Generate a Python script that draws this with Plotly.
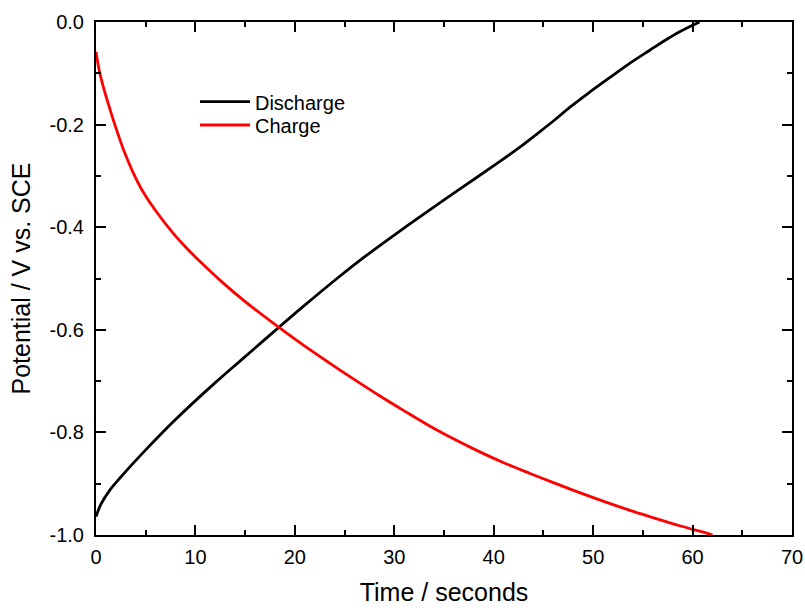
import plotly.graph_objects as go

discharge_t = [0, 0.5, 1.41, 2.5, 3.75, 5, 6.44, 8, 9.79, 12, 14.48, 16.5, 18.4, 21, 24.3, 27, 30.24, 33.5,
               36.94, 40.3, 42.5, 44.3, 46, 47.67, 49.5, 51.7, 53.5, 55.7, 57.3, 58.7, 60.7]
discharge_v = [-0.964, -0.940, -0.912, -0.887, -0.860, -0.834, -0.805, -0.775, -0.742, -0.703, -0.661, -0.627,
               -0.595, -0.552, -0.499, -0.458, -0.412, -0.367, -0.321, -0.276, -0.246, -0.219, -0.193, -0.166,
               -0.139, -0.108, -0.083, -0.055, -0.035, -0.019, 0.0]

charge_t = [0, 0.3, 0.73, 1.5, 2.1, 2.75, 3.7, 4.76, 6, 7.77, 9, 10.46, 12.8, 15, 18.4, 21, 23.5, 26, 28.56,
            31, 33.6, 36, 38.6, 41, 43.65, 46, 48.7, 51, 53.7, 56, 58.7, 61.7, 62]
charge_v = [-0.058, -0.092, -0.126, -0.176, -0.212, -0.248, -0.292, -0.332, -0.368, -0.412, -0.4385, -0.467,
            -0.509, -0.545, -0.5955, -0.632, -0.665, -0.697, -0.729, -0.758, -0.788, -0.813, -0.838, -0.859,
            -0.880, -0.898, -0.918, -0.934, -0.952, -0.966, -0.982, -0.998, -1.0]

x_ticks = [0, 10, 20, 30, 40, 50, 60, 70]
y_ticks = [0.0, -0.2, -0.4, -0.6, -0.8, -1.0]
y_tick_labels = ["0.0", "-0.2", "-0.4", "-0.6", "-0.8", "-1.0"]

FONT = "Liberation Sans, Arial, sans-serif"

fig = go.Figure()
fig.add_trace(go.Scatter(x=discharge_t, y=discharge_v, mode="lines", name="Discharge", legend="legend",
                         line=dict(color="black", width=2.8, shape="spline")))
fig.add_trace(go.Scatter(x=charge_t, y=charge_v, mode="lines", name="Charge", legend="legend2",
                         line=dict(color="#ff0000", width=2.8, shape="spline")))

axis_common = dict(showline=True, linecolor="black", linewidth=2, mirror="allticks",
                   ticks="inside", ticklen=10, tickwidth=2, tickcolor="black",
                   showgrid=False, zeroline=False, automargin=False,
                   tickfont=dict(family=FONT, size=20, color="black"))

fig.update_xaxes(range=[0, 70], tickvals=x_ticks, ticklabelstandoff=3,
                 minor=dict(ticks="inside", ticklen=5, tickwidth=2, dtick=5, tickcolor="black"),
                 title=dict(text="Time / seconds", font=dict(family=FONT, size=25, color="black"), standoff=16),
                 **axis_common)
fig.update_yaxes(range=[-1.0, 0.0], tickvals=y_ticks, ticktext=y_tick_labels, ticklabelstandoff=6,
                 minor=dict(ticks="inside", ticklen=5, tickwidth=2, dtick=0.1, tickcolor="black"),
                 title=dict(text="Potential / V vs. SCE", font=dict(family=FONT, size=25, color="black"), standoff=12),
                 **axis_common)

legend_common = dict(xanchor="left", yanchor="middle", bgcolor="rgba(0,0,0,0)",
                     font=dict(family=FONT, size=20, color="black"), itemwidth=50)

fig.update_layout(width=805, height=608, margin=dict(l=96, r=13, t=22, b=73, autoexpand=False),
                  plot_bgcolor="white", paper_bgcolor="white", showlegend=True,
                  legend=dict(x=0.1422, y=0.8446, **legend_common),
                  legend2=dict(x=0.1422, y=0.7992, **legend_common))
fig.write_html("out.html")
